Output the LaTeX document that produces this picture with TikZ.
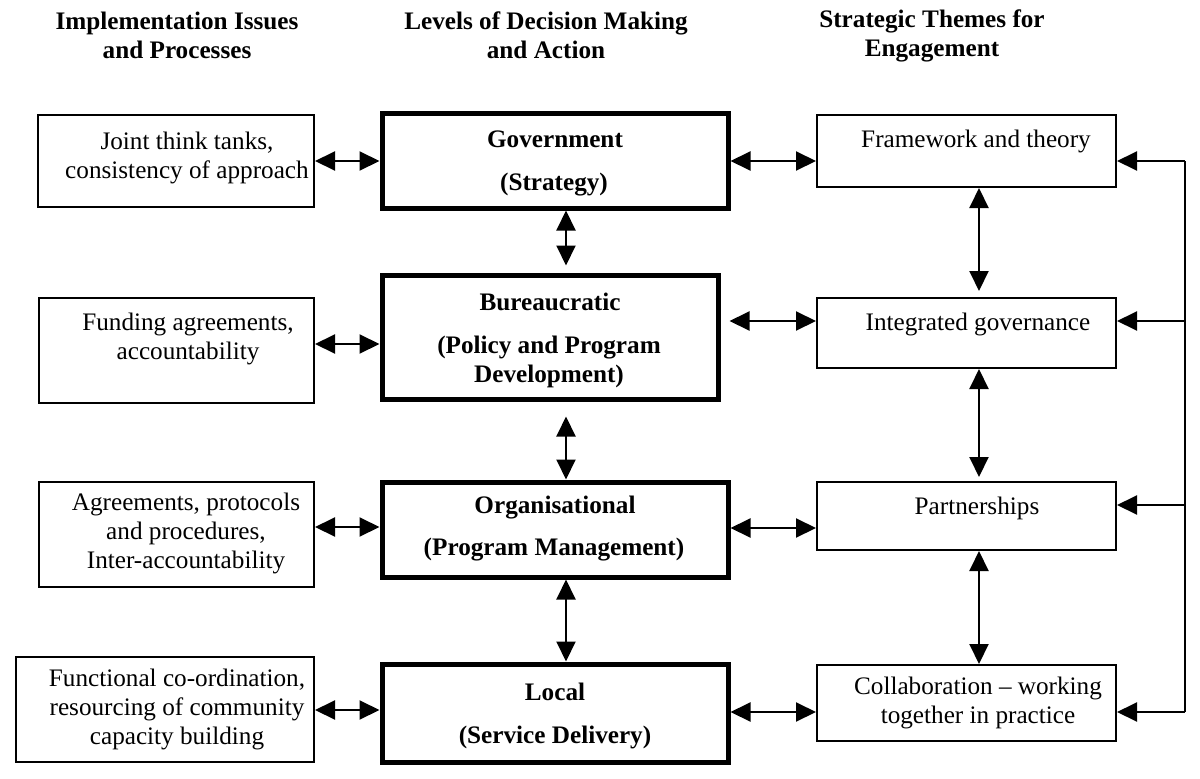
\documentclass[tikz,border=0pt]{standalone}
\usepackage{fontspec}
\setmainfont{Liberation Serif}
\usetikzlibrary{arrows.meta}
\begin{document}
\begin{tikzpicture}[x=1pt,y=-1pt,
  every node/.style={font=\fontsize{25.2}{29}\selectfont},
  thickbox/.style={draw, line width=5pt, inner sep=0pt},
  txt/.style={align=center, inner sep=0pt},
  bold/.style={align=center, inner sep=0pt, font=\fontsize{25.2}{29}\selectfont\bfseries},
  arr/.style={line width=2pt, {Triangle[length=20pt,width=19pt]}-{Triangle[length=20pt,width=19pt]}},
  onearr/.style={line width=2pt, -{Triangle[length=20pt,width=19pt]}},
  fbline/.style={line width=2pt}
]
\useasboundingbox (0,0) rectangle (1200,779);

% headers
\node[bold] (h1) at (177,35) {Implementation Issues\\and Processes};
\node[bold] (h2) at (546,35) {Levels of Decision Making\\and Action};
\node[bold] (h3) at (932,36) {Strategic Themes for\\Engagement};

% left boxes
\node[draw, line width=2pt, inner sep=0pt, minimum width=276pt, minimum height=92pt] (l1) at (176,161) {};
\node[draw, line width=2pt, inner sep=0pt, minimum width=275pt, minimum height=105pt] (l2) at (176.5,350.5) {};
\node[draw, line width=2pt, inner sep=0pt, minimum width=275pt, minimum height=105pt] (l3) at (176.5,534.5) {};
\node[draw, line width=2pt, inner sep=0pt, minimum width=298pt, minimum height=105pt] (l4) at (165,709.5) {};

\node[txt] (l1t) at (187,158) {Joint think tanks,\\consistency of approach};
\node[txt] (l2t) at (188,339) {Funding agreements,\\accountability};
\node[txt] (l3t) at (186,533) {Agreements, protocols\\and procedures,\\Inter-accountability};
\node[txt] (l4t) at (177,709) {Functional co-ordination,\\resourcing of community\\capacity building};

% centre boxes
\node[thickbox, minimum width=346pt, minimum height=95pt] (g) at (555,160.5) {};
\node[thickbox, minimum width=336pt, minimum height=124pt] (b) at (550,337) {};
\node[thickbox, minimum width=346pt, minimum height=95pt] (o) at (555,529.5) {};
\node[thickbox, minimum width=346pt, minimum height=98pt] (loc) at (555,713) {};

\node[bold] (gt1) at (555,139) {Government};
\node[bold] (gt2) at (554,185) {(Strategy)};
\node[bold] (bt1) at (550,302) {Bureaucratic};
\node[bold] (bt2) at (549,362) {(Policy and Program\\Development)};
\node[bold] (ot1) at (555,508) {Organisational};
\node[bold] (ot2) at (554,550) {(Program Management)};
\node[bold] (lt1) at (555,692) {Local};
\node[bold] (lt2) at (555,737) {(Service Delivery)};

% right boxes
\node[draw, line width=2pt, inner sep=0pt, minimum width=299pt, minimum height=72pt] (f) at (966.5,151) {};
\node[draw, line width=2pt, inner sep=0pt, minimum width=299pt, minimum height=70pt] (i) at (966.5,333) {};
\node[draw, line width=2pt, inner sep=0pt, minimum width=299pt, minimum height=68pt] (p) at (966.5,516) {};
\node[draw, line width=2pt, inner sep=0pt, minimum width=299pt, minimum height=76pt] (c) at (966.5,703) {};

\node[txt] (ft) at (976,141) {Framework and theory};
\node[txt] (it) at (978,324) {Integrated governance};
\node[txt] (pt) at (977,508) {Partnerships};
\node[txt] (ct) at (978,703) {Collaboration -- working\\together in practice};

% left-centre arrows
\draw[arr] (l1.east |- 0,161) -- (g.west |- 0,161);
\draw[arr] (l2.east |- 0,344) -- (b.west |- 0,344);
\draw[arr] (l3.east |- 0,527) -- (o.west |- 0,527);
\draw[arr] (l4.east |- 0,710) -- (loc.west |- 0,710);

% centre-right arrows
\draw[arr] (g.east |- 0,161) -- (f.west |- 0,161);
\draw[arr, shorten <=9pt] (b.east |- 0,321) -- (i.west |- 0,321);
\draw[arr] (o.east |- 0,528) -- (p.west |- 0,528);
\draw[arr] (loc.east |- 0,712) -- (c.west |- 0,712);

% centre vertical arrows
\draw[arr, shorten >=7pt] (g.south -| 566,0) -- (b.north -| 566,0);
\draw[arr, shorten <=15pt] (b.south -| 566,0) -- (o.north -| 566,0);
\draw[arr] (o.south -| 566,0) -- (loc.north -| 566,0);

% right vertical arrows
\draw[arr, shorten >=6pt] (f.south -| 979,0) -- (i.north -| 979,0);
\draw[arr, shorten >=4pt] (i.south -| 979,0) -- (p.north -| 979,0);
\draw[arr] (p.south -| 979,0) -- (c.north -| 979,0);

% feedback line
\coordinate (fb1) at (1185,161);
\coordinate (fb2) at (1185,321);
\coordinate (fb3) at (1185,505);
\coordinate (fb4) at (1185,712);
\draw[fbline] (fb1) -- (fb4);
\draw[onearr] (fb1) -- (f.east |- fb1);
\draw[onearr] (fb2) -- (i.east |- fb2);
\draw[onearr] (fb3) -- (p.east |- fb3);
\draw[onearr] (fb4) -- (c.east |- fb4);
\end{tikzpicture}
\end{document}
